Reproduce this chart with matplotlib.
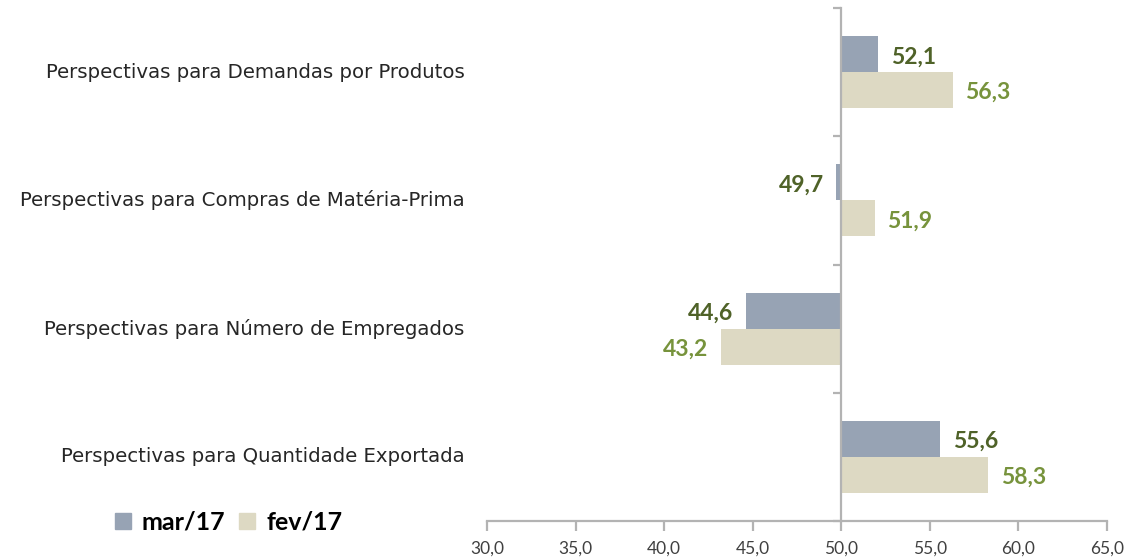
import numpy as np
import matplotlib.pyplot as plt
from matplotlib.lines import Line2D
import matplotlib.transforms as mtransforms

# --- Data ---
categories = [
    'Perspectivas para Demandas por Produtos',
    'Perspectivas para Compras de Matéria-Prima',
    'Perspectivas para Número de Empregados',
    'Perspectivas para Quantidade Exportada',
]
mar17 = [52.1, 49.7, 44.6, 55.6]
fev17 = [56.3, 51.9, 43.2, 58.3]
series_names = ['mar/17', 'fev/17']
x_ticks = [30, 35, 40, 45, 50, 55, 60, 65]
BASE = 50.0

# --- Style ---
C_MAR = '#97A3B4'
C_FEV = '#DDD9C3'
C_MAR_TXT = '#4F6228'
C_FEV_TXT = '#77933C'
C_AXIS = '#B3B3B3'
BAR_H = 0.28

fig = plt.figure(figsize=(11.29, 5.6), dpi=100)
ax = fig.add_axes([487 / 1129, 1 - 521 / 560, 620 / 1129, 513 / 560])

n = len(categories)
y = np.arange(n)[::-1]  # top to bottom

mar_w = np.array(mar17) - BASE
fev_w = np.array(fev17) - BASE
ax.barh(y + BAR_H / 2, mar_w, left=BASE, height=BAR_H, color=C_MAR, zorder=2)
ax.barh(y - BAR_H / 2, fev_w, left=BASE, height=BAR_H, color=C_FEV, zorder=2)

# value labels
def fmt(v):
    return f'{v:.1f}'.replace('.', ',')

for yi, v in zip(y, mar17):
    off = 0.7 if v >= BASE else -0.7
    ax.text(v + off, yi + BAR_H / 2 - 0.02, fmt(v), ha='left' if v >= BASE else 'right',
            va='center', fontsize=16.5, fontweight='bold', family='Lato', color=C_MAR_TXT)
for yi, v in zip(y, fev17):
    off = 0.7 if v >= BASE else -0.7
    ax.text(v + off, yi - BAR_H / 2 - 0.02, fmt(v), ha='left' if v >= BASE else 'right',
            va='center', fontsize=16.5, fontweight='bold', family='Lato', color=C_FEV_TXT)

# category labels left of axes
trans = mtransforms.blended_transform_factory(ax.transAxes, ax.transData)
for yi, lab in zip(y, categories):
    ax.text(-0.036, yi, lab, transform=trans, ha='right', va='center',
            fontsize=14.2, family='DejaVu Sans', color='#262626')

# axes
ax.set_xlim(30, 65)
ax.set_ylim(-0.5, n - 0.5)
ax.set_xticks(x_ticks)
ax.set_xticklabels([fmt(t) for t in x_ticks], family='Lato', fontsize=12.5, color='#404040')
ax.set_yticks(np.arange(n + 1) - 0.5)
ax.set_yticklabels([])

for s in ['top', 'right']:
    ax.spines[s].set_visible(False)
ax.spines['left'].set_position(('data', BASE))
ax.spines['left'].set_color(C_AXIS)
ax.spines['left'].set_linewidth(1.6)
ax.spines['bottom'].set_color(C_AXIS)
ax.spines['bottom'].set_linewidth(1.6)
ax.tick_params(axis='x', direction='out', length=7, width=1.6, color=C_AXIS, pad=7)
ax.tick_params(axis='y', direction='out', length=6, width=1.6, color=C_AXIS)

# legend
handles = [
    Line2D([], [], marker='s', linestyle='none', markersize=11, color=C_MAR),
    Line2D([], [], marker='s', linestyle='none', markersize=11, color=C_FEV),
]
fig.legend(handles, series_names, loc='center left', bbox_to_anchor=(90 / 1129, 1 - 522 / 560),
           ncol=2, frameon=False, handlelength=0.8, handletextpad=0.35, columnspacing=0.5,
           prop={'family': 'Lato', 'weight': 'bold', 'size': 18})

fig.savefig('out.png', dpi=100)
